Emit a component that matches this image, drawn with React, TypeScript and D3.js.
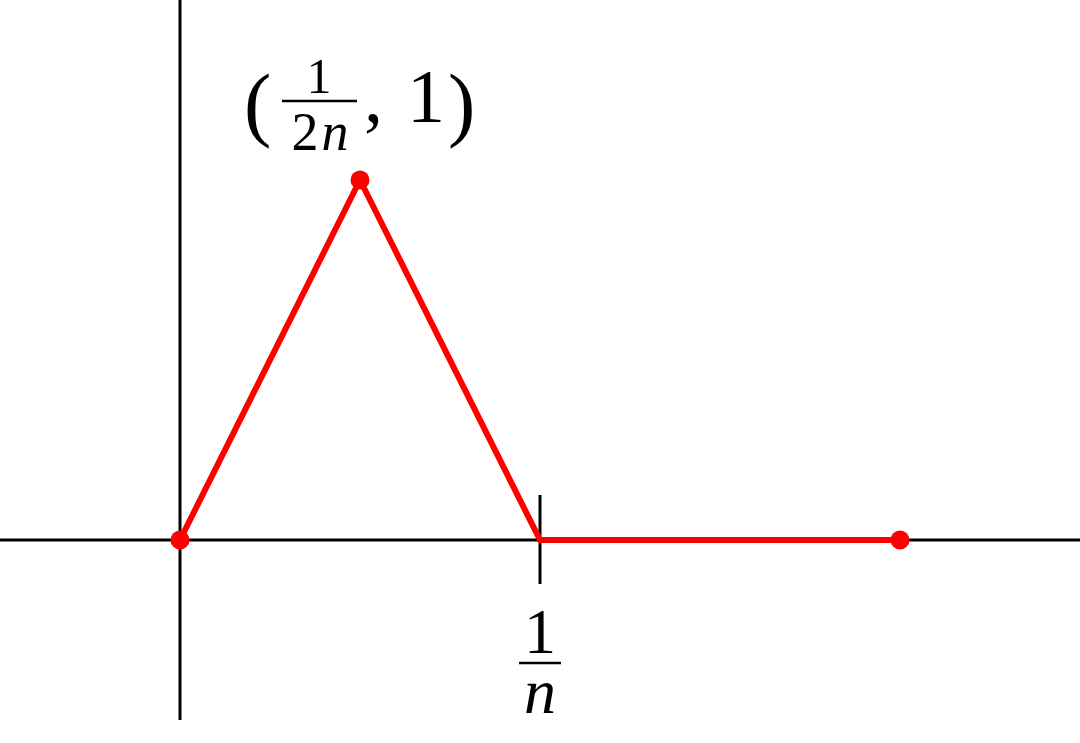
import React from "react";
import * as d3 from "d3";

const xs = [0, 0.5, 1, 2];
const ys = [0, 1, 0, 0];
const dotIdx = [0, 1, 3];
const tickX = [1];

const W = 1080;
const H = 743;

export default function App() {
  const x = d3.scaleLinear().domain([-0.5, 2.5]).range([0, 1080]);
  const y = d3.scaleLinear().domain([-0.5, 1.5]).range([720, 0]);
  const pts = xs.map((v, i) => [x(v), y(ys[i])] as [number, number]);
  const line = d3.line()(pts) as string;
  const font = "'Liberation Serif', 'DejaVu Serif', serif";
  const px = x(0.5);
  const py = y(1);
  const tx = x(1);
  return (
    <svg width={W} height={H} style={{ position: "absolute", left: 0, top: 0, background: "#fff" }}>
      <line x1={x(-0.5)} x2={x(2.5)} y1={y(0)} y2={y(0)} stroke="#000" strokeWidth={3} />
      <line x1={x(0)} x2={x(0)} y1={y(1.5)} y2={y(-0.5)} stroke="#000" strokeWidth={3} />
      {tickX.map((t) => (
        <line key={t} x1={x(t)} x2={x(t)} y1={y(0) - 45} y2={y(0) + 44} stroke="#000" strokeWidth={3} />
      ))}
      <path d={line} fill="none" stroke="#ff0000" strokeWidth={6} strokeLinejoin="round" />
      {dotIdx.map((i) => (
        <circle key={i} cx={pts[i][0]} cy={pts[i][1]} r={9.5} fill="#ff0000" />
      ))}
      {/* label (1/2n, 1) */}
      <g fontFamily={font} fill="#000">
        <text x={px - 116} y={py - 49} fontSize={82}>(</text>
        <text x={px - 41} y={py - 87} fontSize={50} textAnchor="middle">1</text>
        <line x1={px - 78} x2={px - 3} y1={py - 79} y2={py - 79} stroke="#000" strokeWidth={2.5} />
        <text x={px - 40} y={py - 30} fontSize={54} textAnchor="middle">
          2<tspan fontStyle="italic" dx={3}>n</tspan>
        </text>
        <text x={px + 4} y={py - 58} fontSize={76}>,</text>
        <text x={px + 66} y={py - 58} fontSize={76} textAnchor="middle">1</text>
        <text x={px + 88} y={py - 49} fontSize={82}>)</text>
        {/* label 1/n */}
        <text x={tx} y={653} fontSize={64} textAnchor="middle">1</text>
        <line x1={tx - 21} x2={tx + 21} y1={663} y2={663} stroke="#000" strokeWidth={2.5} />
        <text x={tx} y={713} fontSize={64} fontStyle="italic" textAnchor="middle">n</text>
      </g>
    </svg>
  );
}
